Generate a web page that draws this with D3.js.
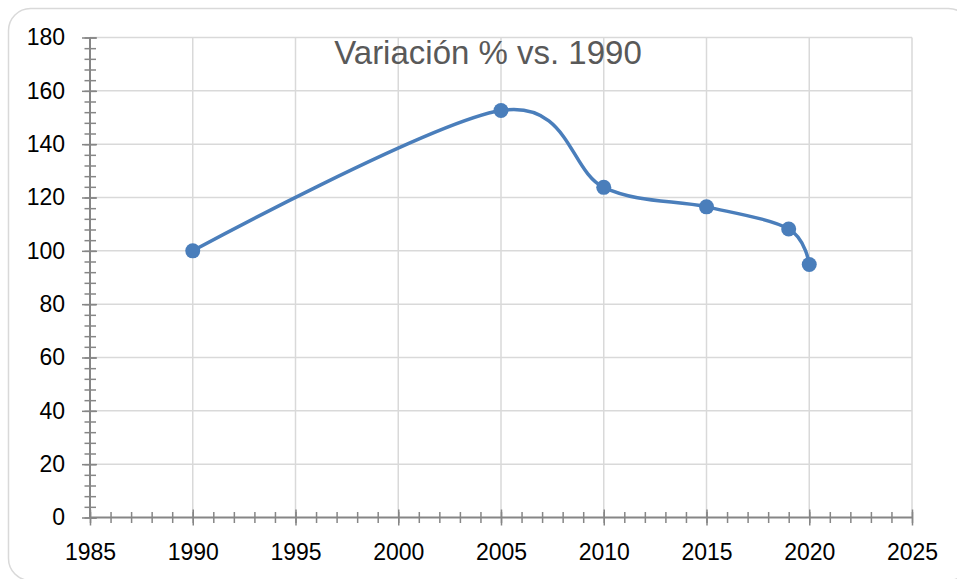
<!DOCTYPE html>
<html>
<head>
<meta charset="utf-8">
<script src="https://cdn.jsdelivr.net/npm/d3@7"></script>
<style>
  html, body { margin: 0; padding: 0; background: #ffffff; }
  svg { display: block; }
</style>
</head>
<body>
<svg id="chart" width="957" height="579"></svg>
<script>
// ---- data ----
const years = [1990, 2005, 2010, 2015, 2019, 2020];
const values = [100, 152.6, 123.8, 116.5, 108.2, 94.9];
const xMajorTicks = [1985, 1990, 1995, 2000, 2005, 2010, 2015, 2020, 2025];
const yMajorTicks = [0, 20, 40, 60, 80, 100, 120, 140, 160, 180];
const title = "Variación % vs. 1990";

const svg = d3.select("#chart");
const font = "'Liberation Sans', Arial, sans-serif";

// chart border
svg.append("rect")
  .attr("x", 8.5).attr("y", 8.5)
  .attr("width", 962).attr("height", 572)
  .attr("rx", 22).attr("ry", 22)
  .attr("fill", "#ffffff")
  .attr("stroke", "#d9d9d9").attr("stroke-width", 1.5);

const x = d3.scaleLinear().domain([1985, 2025]).range([90, 912]);
const y = d3.scaleLinear().domain([0, 180]).range([517.5, 37.5]);

const xMinor = d3.range(1985, 2026, 1);
const yMinor = d3.range(0, 181, 4);

// gridlines
const grid = svg.append("g").attr("stroke", "#d9d9d9").attr("stroke-width", 1.5);
grid.selectAll("line.v").data(xMajorTicks.filter(d => d > 1985)).join("line")
  .attr("x1", d => x(d)).attr("x2", d => x(d))
  .attr("y1", y(180)).attr("y2", y(0));
grid.selectAll("line.h").data(yMajorTicks.filter(d => d > 0)).join("line")
  .attr("x1", x(1985)).attr("x2", x(2025))
  .attr("y1", d => y(d)).attr("y2", d => y(d));

const axisColor = "#868686";

function styleAxis(g, inner, outer, horizontal) {
  g.select(".domain").remove();
  g.selectAll(".tick line")
    .attr("stroke", axisColor).attr("stroke-width", 1.5);
  if (horizontal) {
    g.selectAll(".tick line").attr("y1", -inner).attr("y2", outer);
  } else {
    g.selectAll(".tick line").attr("x1", inner).attr("x2", -outer);
  }
}

// x minor ticks
svg.append("g").attr("transform", `translate(0,${y(0)})`)
  .call(d3.axisBottom(x).tickValues(xMinor).tickSize(5.5).tickFormat(""))
  .call(g => styleAxis(g, 5.5, 5.5, true));
// y minor ticks
svg.append("g").attr("transform", `translate(${x(1985)},0)`)
  .call(d3.axisLeft(y).tickValues(yMinor).tickSize(5.5).tickFormat(""))
  .call(g => styleAxis(g, 6, 5.5, false));

// x major axis
const gx = svg.append("g").attr("transform", `translate(0,${y(0)})`)
  .call(d3.axisBottom(x).tickValues(xMajorTicks).tickSize(8).tickPadding(18).tickFormat(d3.format("d")));
styleAxis(gx, 8, 8, true);
gx.selectAll("text").attr("font-family", font).attr("font-size", 23).attr("fill", "#000000");

// y major axis
const gy = svg.append("g").attr("transform", `translate(${x(1985)},0)`)
  .call(d3.axisLeft(y).tickValues(yMajorTicks).tickSize(8).tickPadding(17).tickFormat(d3.format("d")));
styleAxis(gy, 7, 8, false);
gy.selectAll("text").attr("font-family", font).attr("font-size", 23).attr("fill", "#000000");

// axis lines
svg.append("line").attr("x1", x(1985)).attr("x2", x(2025)).attr("y1", y(0)).attr("y2", y(0))
  .attr("stroke", axisColor).attr("stroke-width", 2);
svg.append("line").attr("x1", x(1985)).attr("x2", x(1985)).attr("y1", y(0)).attr("y2", y(180))
  .attr("stroke", axisColor).attr("stroke-width", 2);

// title
svg.append("text")
  .attr("x", 488).attr("y", 64)
  .attr("text-anchor", "middle")
  .attr("font-family", font).attr("font-size", 33)
  .attr("fill", "#595959")
  .text(title);

// line
const pts = years.map((yr, i) => [yr, values[i]]);
const line = d3.line().x(d => x(d[0])).y(d => y(d[1])).curve(d3.curveCardinal.tension(0));
svg.append("path").datum(pts)
  .attr("d", line)
  .attr("fill", "none")
  .attr("stroke", "#4a7ebb")
  .attr("stroke-width", 3.5)
  .attr("stroke-linejoin", "round");

svg.selectAll("circle.pt").data(pts).join("circle")
  .attr("class", "pt")
  .attr("cx", d => x(d[0])).attr("cy", d => y(d[1]))
  .attr("r", 7.5)
  .attr("fill", "#4a7ebb");
</script>
</body>
</html>
